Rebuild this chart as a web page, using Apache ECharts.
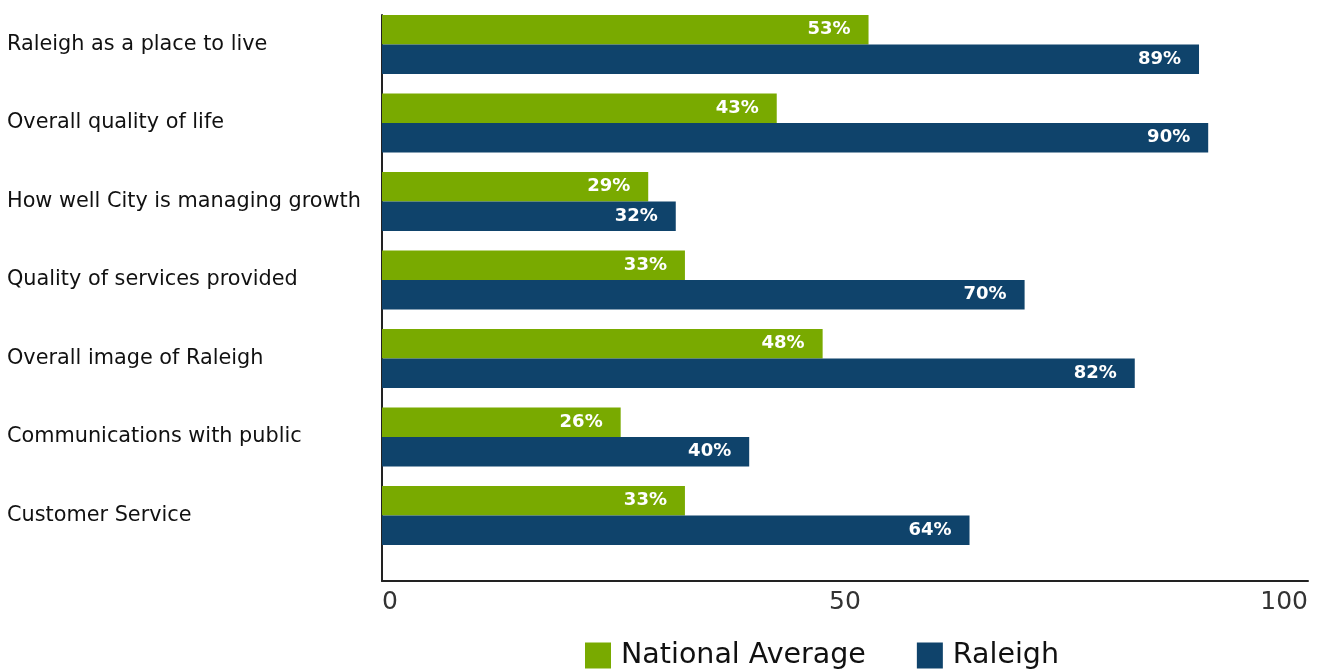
<!DOCTYPE html>
<html>
<head>
<meta charset="utf-8">
<script src="https://cdn.jsdelivr.net/npm/echarts@6/dist/echarts.min.js"></script>
<style>
  html, body { margin: 0; padding: 0; background: #fff; }
  #chart { width: 1322px; height: 671px; }
</style>
</head>
<body>
<div id="chart"></div>
<script>
// 数据
const categories = [
  'Raleigh as a place to live',
  'Overall quality of life',
  'How well City is managing growth',
  'Quality of services provided',
  'Overall image of Raleigh',
  'Communications with public',
  'Customer Service',
];
const nationalAverage = [53, 43, 29, 33, 48, 26, 33];
const raleigh = [89, 90, 32, 70, 82, 40, 64];
const seriesNames = ['National Average', 'Raleigh'];
const axisTicks = [0, 50, 100];

const GREEN = '#79aa00';
const BLUE = '#0f436b';
const FONT = 'DejaVu Sans';

const chart = echarts.init(document.getElementById('chart'));

const barLabel = {
  show: true,
  position: 'insideRight',
  distance: 18,
  color: '#fff',
  fontFamily: FONT,
  fontWeight: 'bold',
  fontSize: 18,
  formatter: (p) => p.value + '%',
};

const option = {
  animation: false,
  grid: [
    // bars
    { left: 382, width: 918, top: 5.25, height: 549.5 },
    // axis frame
    { left: 382, width: 926, top: 15, height: 566 },
  ],
  legend: {
    data: seriesNames,
    left: 580,
    top: 636,
    itemWidth: 26,
    itemHeight: 26,
    itemGap: 51,
    icon: 'rect',
    textStyle: { fontFamily: FONT, fontSize: 28.5, color: '#111', padding: [0, 0, 0, 5] },
  },
  xAxis: [
    {
      gridIndex: 0,
      type: 'value',
      min: 0,
      max: 100,
      show: false,
    },
    {
      gridIndex: 1,
      type: 'value',
      min: axisTicks[0],
      max: axisTicks[axisTicks.length - 1],
      interval: 50,
      axisLine: { show: true, lineStyle: { color: '#222', width: 2 } },
      axisTick: { show: false },
      splitLine: { show: false },
      axisLabel: {
        margin: 9,
        fontFamily: FONT,
        fontSize: 25,
        color: '#333',
        alignMinLabel: 'left',
        alignMaxLabel: 'right',
      },
    },
  ],
  yAxis: [
    {
      gridIndex: 0,
      type: 'category',
      inverse: true,
      data: categories,
      axisLine: { show: false },
      axisTick: { show: false },
      axisLabel: {
        align: 'left',
        margin: 375,
        fontFamily: FONT,
        fontSize: 20.8,
        color: '#111',
      },
    },
    {
      gridIndex: 1,
      type: 'value',
      min: 0,
      max: 1,
      axisLine: { show: true, lineStyle: { color: '#222', width: 2 } },
      axisTick: { show: false },
      axisLabel: { show: false },
      splitLine: { show: false },
    },
  ],
  series: [
    {
      name: seriesNames[0],
      type: 'bar',
      xAxisIndex: 0,
      yAxisIndex: 0,
      data: nationalAverage,
      barWidth: 29.5,
      barGap: '0%',
      itemStyle: { color: GREEN },
      label: barLabel,
    },
    {
      name: seriesNames[1],
      type: 'bar',
      xAxisIndex: 0,
      yAxisIndex: 0,
      data: raleigh,
      barWidth: 29.5,
      barGap: '0%',
      itemStyle: { color: BLUE },
      label: barLabel,
    },
  ],
};

chart.setOption(option);
</script>
</body>
</html>
